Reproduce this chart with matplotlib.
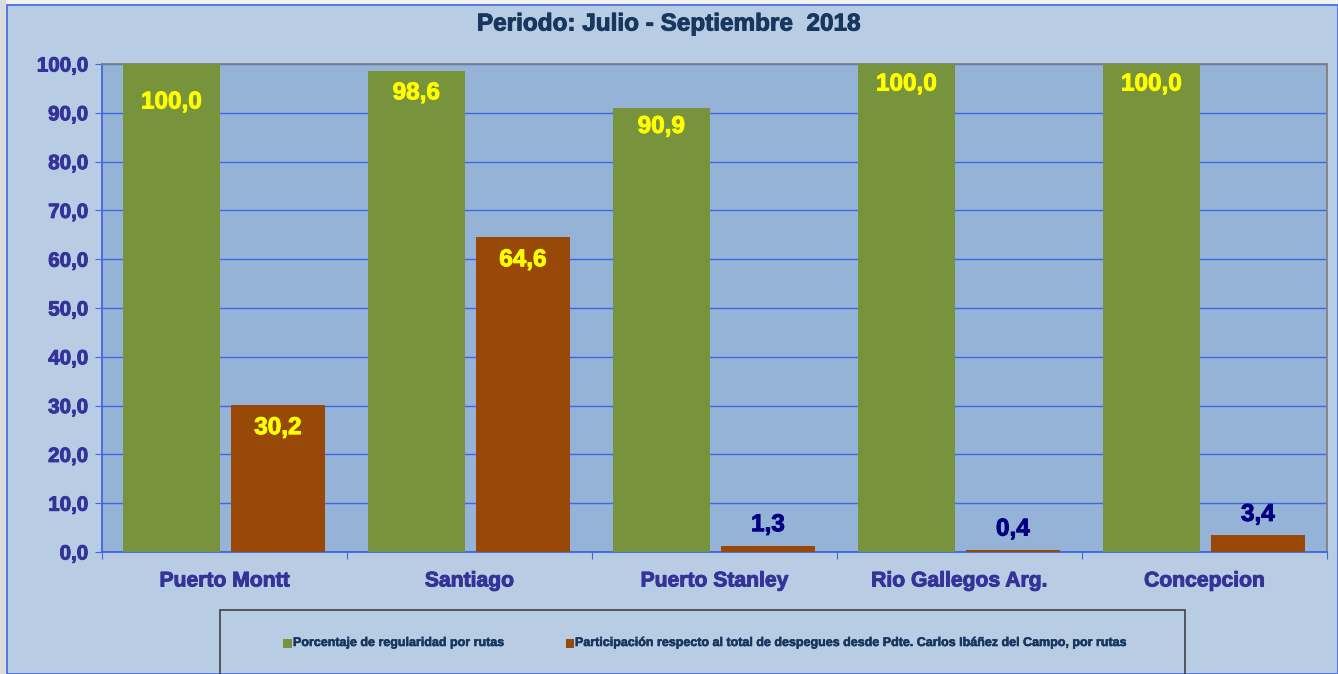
import numpy as np
import matplotlib.pyplot as plt
import matplotlib.patheffects as pe
from matplotlib.patches import Rectangle

plt.rcParams['font.family'] = ['Liberation Sans', 'DejaVu Sans']

# Data
rutas = ['Puerto Montt', 'Santiago', 'Puerto Stanley', 'Rio Gallegos Arg.', 'Concepcion']
regularidad = [100.0, 98.6, 90.9, 100.0, 100.0]
participacion = [30.2, 64.6, 1.3, 0.4, 3.4]
serie_1 = 'Porcentaje de regularidad por rutas'
serie_2 = 'Participación respecto al total de despegues desde Pdte. Carlos Ibáñez del Campo, por rutas'
titulo = 'Periodo: Julio - Septiembre  2018'

GREEN = '#77933C'
ORANGE = '#984807'
NAVY = '#333399'
DARK = '#17375E'
GRID = '#3F66E6'


def heavy(color, lw=0.7):
    # thicken bold glyphs a bit, closer to the Excel rendering
    return [pe.Stroke(linewidth=lw, foreground=color), pe.Normal()]


fig = plt.figure(figsize=(13.38, 6.74), dpi=100)
fig.patch.set_facecolor('#F2F2F2')
# chart area background
fig.patches.append(Rectangle((7/1338, 0), 1 - 7/1338, 1 - 5/674, transform=fig.transFigure,
                             facecolor='#B8CCE4', edgecolor=GRID, linewidth=1.2, zorder=-2))
fig.patches.append(Rectangle((0, 0), 6/1338, 1, transform=fig.transFigure,
                             facecolor='#DCDCDC', edgecolor='none', zorder=-2))

ax = fig.add_axes([102/1338, 1 - 552/674, (1327-102)/1338, (552-64)/674])
ax.set_facecolor('#95B3D7')

x = np.arange(len(rutas))
b1 = ax.bar(x - 0.217, regularidad, 0.395, color=GREEN, zorder=3)
b2 = ax.bar(x + 0.218, participacion, 0.385, color=ORANGE, zorder=3)

ax.set_ylim(0, 100)
ax.set_xlim(-0.5, len(rutas) - 0.5)
ax.set_yticks(np.arange(0, 101, 10))
ax.set_yticklabels([f'{v:.1f}'.replace('.', ',') for v in np.arange(0, 101, 10)],
                   fontsize=14.8, fontweight='bold', color=NAVY)
ax.yaxis.grid(True, color=GRID, linewidth=1, zorder=1)
ax.set_axisbelow(True)
ax.set_xticks(np.arange(-0.5, len(rutas), 1))
ax.set_xticklabels([])
ax.set_xticks(x, minor=True)
ax.set_xticklabels(rutas, minor=True, fontsize=15.2, fontweight='bold', color=NAVY)
ax.tick_params(axis='x', which='minor', length=0, pad=14)
ax.tick_params(axis='x', which='major', length=5, color=GRID, direction='out')
ax.tick_params(axis='y', length=5, color=GRID, pad=5)
for t in ax.get_yticklabels() + ax.get_xticklabels(minor=True):
    t.set_path_effects(heavy(NAVY))
ax.spines['left'].set_color(GRID)
ax.spines['bottom'].set_color(GRID)
ax.spines['top'].set_color('#808080')
ax.spines['right'].set_color('#808080')
for s in ax.spines.values():
    s.set_linewidth(1.3)

# data labels
green_off = [-38, -22, -18, -20, -20]
for bar, v, dy in zip(b1, regularidad, green_off):
    ax.annotate(f'{v:.1f}'.replace('.', ','), (bar.get_x() + bar.get_width()/2, v),
                xytext=(0, dy), textcoords='offset pixels', ha='center', va='center',
                fontsize=17.5, fontweight='bold', color='yellow', zorder=5,
                path_effects=heavy('yellow'))
for bar, v in zip(b2, participacion):
    lab = f'{v:.1f}'.replace('.', ',')
    if v > 20:
        ax.annotate(lab, (bar.get_x() + bar.get_width()/2, v), xytext=(0, -23),
                    textcoords='offset pixels', ha='center', va='center',
                    fontsize=17.5, fontweight='bold', color='yellow', zorder=5,
                    path_effects=heavy('yellow'))
    else:
        ax.annotate(lab, (bar.get_x() + bar.get_width()/2, v), xytext=(0, 21),
                    textcoords='offset pixels', ha='center', va='center',
                    fontsize=17.5, fontweight='bold', color='#000080', zorder=5,
                    path_effects=heavy('#000080'))

fig.text(0.5, 1 - 24/674, titulo, ha='center', va='center', fontsize=17.5,
         fontweight='bold', color=DARK, path_effects=heavy(DARK))

# legend box
fig.patches.append(Rectangle((220/1338, -0.01), (1185-220)/1338, (674-610)/674 + 0.01,
                             transform=fig.transFigure, facecolor='none',
                             edgecolor='#404040', linewidth=1.2, zorder=2))
ly = 1 - 643/674
fig.patches.append(Rectangle((283/1338, ly - 5/674), 9/1338, 9/674, transform=fig.transFigure,
                             facecolor=GREEN, edgecolor='none'))
fig.text(293/1338, ly, serie_1, ha='left', va='center', fontsize=9,
         fontweight='bold', color=DARK, path_effects=heavy(DARK, 0.4))
fig.patches.append(Rectangle((566/1338, ly - 5/674), 8/1338, 9/674,
                             transform=fig.transFigure, facecolor=ORANGE, edgecolor='none'))
fig.text(575/1338, ly, serie_2, ha='left', va='center', fontsize=9,
         fontweight='bold', color=DARK, path_effects=heavy(DARK, 0.4))

fig.savefig('out.png', dpi=100, facecolor=fig.get_facecolor())
